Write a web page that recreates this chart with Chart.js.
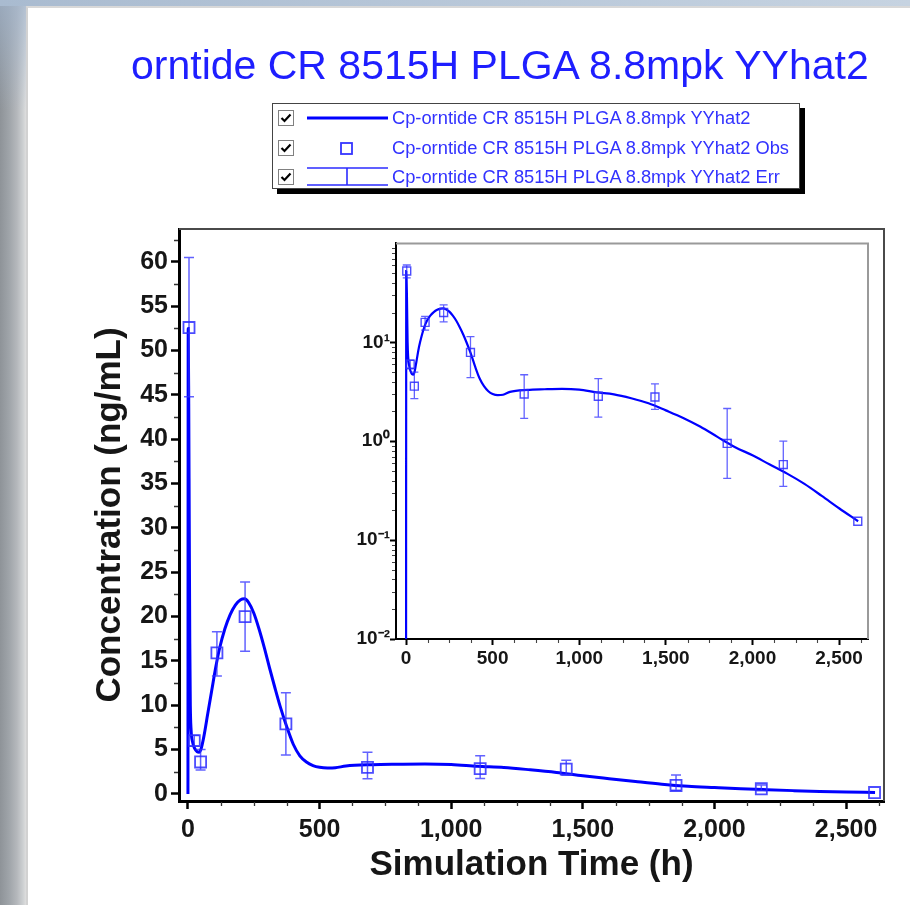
<!DOCTYPE html>
<html>
<head>
<meta charset="utf-8">
<script src="https://cdn.jsdelivr.net/npm/chart.js@4.4.1/dist/chart.umd.min.js"></script>
<style>
  html, body { margin: 0; padding: 0; }
  body { width: 910px; height: 905px; position: relative; overflow: hidden; background: #fff;
         font-family: "Liberation Sans", Arial, sans-serif; }
  #marcoIzq { position: absolute; left: 0; top: 0; width: 26px; height: 905px;
              background: linear-gradient(to right, #8e9398 0px, #9fa4a9 9px, #b5b8bc 17px, #cdd0d2 23px, #dedede 26px); }
  #marcoIzqAzul { position: absolute; left: 0; top: 0; width: 26px; height: 110px;
                  background: linear-gradient(to bottom, rgba(160,180,205,0.7), rgba(160,180,205,0)); }
  #marcoSup { position: absolute; left: 0; top: 0; width: 910px; height: 6px;
              background: linear-gradient(to right, #a9bbd0, #c6d3e1); }
  #panel { position: absolute; left: 26px; top: 6px; width: 884px; height: 899px; background: #fff;
           border-left: 2px solid #d2d2d2; border-top: 2px solid #d8d8d8; box-sizing: border-box; }
  canvas { position: absolute; }
  #mainChart { left: 0; top: 0; }
  #insetChart { left: 340px; top: 232px; }
  #titulo { position: absolute; left: 131px; top: 45px; font-size: 41px; line-height: 41px;
            color: #1e1eff; white-space: nowrap; }
  #leyenda { position: absolute; left: 272px; top: 103px; width: 528px; height: 86px; background: #fff;
             border: 1px solid #444; box-sizing: border-box; box-shadow: 5px 5px 0 #000; }
  .fila { position: absolute; left: 0; width: 100%; height: 18px; }
  .fila svg { position: absolute; }
  .txt { position: absolute; left: 119px; top: 0; font-size: 18.3px; line-height: 18px; color: #3232ff; white-space: nowrap; }
</style>
</head>
<body>
<div id="marcoIzq"></div>
<div id="marcoIzqAzul"></div>
<div id="marcoSup"></div>
<div id="panel"></div>

<canvas id="mainChart" width="910" height="905"></canvas>
<canvas id="insetChart" width="540" height="440"></canvas>

<div id="titulo">orntide CR 8515H PLGA 8.8mpk YYhat2</div>

<div id="leyenda">
  <div class="fila" style="top:5px">
    <svg style="left:5px;top:1px" width="16" height="16"><rect x="0.5" y="0.5" width="15" height="15" fill="#fff" stroke="#808080"/><path d="M3.5 8 L6.5 11 L12.5 4.5" fill="none" stroke="#000" stroke-width="2.2"/></svg>
    <svg style="left:34px;top:7px" width="81" height="4"><line x1="0" y1="2" x2="81" y2="2" stroke="#0000ff" stroke-width="3"/></svg>
    <span class="txt">Cp-orntide CR 8515H PLGA 8.8mpk YYhat2</span>
  </div>
  <div class="fila" style="top:35px">
    <svg style="left:5px;top:1px" width="16" height="16"><rect x="0.5" y="0.5" width="15" height="15" fill="#fff" stroke="#808080"/><path d="M3.5 8 L6.5 11 L12.5 4.5" fill="none" stroke="#000" stroke-width="2.2"/></svg>
    <svg style="left:67px;top:3px" width="13" height="13"><rect x="1" y="1" width="11" height="11" fill="none" stroke="#3535ff" stroke-width="1.8"/></svg>
    <span class="txt">Cp-orntide CR 8515H PLGA 8.8mpk YYhat2 Obs</span>
  </div>
  <div class="fila" style="top:64px">
    <svg style="left:5px;top:1px" width="16" height="16"><rect x="0.5" y="0.5" width="15" height="15" fill="#fff" stroke="#808080"/><path d="M3.5 8 L6.5 11 L12.5 4.5" fill="none" stroke="#000" stroke-width="2.2"/></svg>
    <svg style="left:34px;top:-1px" width="81" height="20"><g stroke="#2b2bff" stroke-width="1.6"><line x1="0" y1="1" x2="81" y2="1"/><line x1="0" y1="18" x2="81" y2="18"/><line x1="40" y1="1" x2="40" y2="18"/></g></svg>
    <span class="txt">Cp-orntide CR 8515H PLGA 8.8mpk YYhat2 Err</span>
  </div>
</div>

<script>
// Observaciones (tiempo en h, concentración en ng/mL, límites de la barra de error)
const obsTime = [4, 24, 48, 110, 217, 372, 682, 1110, 1437, 1854, 2178, 2608];
const obsConc = [52.6, 6.0, 3.6, 15.9, 20.0, 7.9, 3.0, 2.85, 2.8, 0.95, 0.58, 0.155];
const obsLow  = [44.8, 5.4, 2.7, 13.3, 16.1, 4.4, 1.7, 1.75, 2.1, 0.42, 0.35, 0.155];
const obsHigh = [60.5, 6.6, 5.0, 18.3, 23.9, 11.4, 4.7, 4.3, 3.8, 2.14, 1.0, 0.155];

// Curva predicha
const predTime = [0, 1, 3, 5, 7, 9, 12, 18, 26, 35, 42, 50, 60, 75, 90, 105, 120, 140, 160, 180,
                  200, 215, 230, 250, 270, 290, 310, 330, 350, 375, 400, 425, 450, 475, 500, 530, 560, 600, 700, 800,
                  900, 1000, 1100, 1200, 1300, 1400, 1500, 1600, 1700, 1800, 1900, 2000, 2100, 2200, 2300, 2400, 2500, 2610];
const predConc = [0, 52.5, 44, 30, 17, 10, 7.2, 5.8, 5.1, 4.75, 4.7, 5.1, 6.4, 9.0, 11.6, 14.2, 16.4, 18.6, 20.2, 21.3,
                  21.9, 22.0, 21.6, 20.4, 18.6, 16.5, 14.2, 12.0, 9.9, 7.6, 5.6, 4.3, 3.6, 3.2, 3.0, 2.92, 2.95, 3.15, 3.3, 3.35,
                  3.38, 3.32, 3.12, 2.98, 2.72, 2.42, 2.05, 1.72, 1.4, 1.1, 0.87, 0.72, 0.58, 0.47, 0.37, 0.28, 0.21, 0.155];

// Marcas de los ejes
const xTicks = [0, 500, 1000, 1500, 2000, 2500];
const yTicksLin = [0, 5, 10, 15, 20, 25, 30, 35, 40, 45, 50, 55, 60];
const yTicksLog = [0.01, 0.1, 1, 10];

const FONT = '"Liberation Sans", Arial, sans-serif';
const TXT = '#161616';

// Marco superior y derecho del área del gráfico
const framePlugin = {
    id: 'frame',
    beforeDatasetsDraw(chart, args, opts) {
        const a = chart.chartArea, ctx = chart.ctx;
        ctx.save();
        ctx.strokeStyle = opts.color;
        ctx.lineWidth = opts.width;
        ctx.beginPath();
        ctx.moveTo(a.left, a.top);
        ctx.lineTo(a.right, a.top);
        ctx.lineTo(a.right, a.bottom);
        ctx.stroke();
        ctx.restore();
    }
};

// Marcas menores
const minorPlugin = {
    id: 'minor',
    afterDraw(chart, args, opts) {
        const a = chart.chartArea, ctx = chart.ctx;
        const xs = chart.scales.x, ys = chart.scales.y;
        ctx.save();
        ctx.strokeStyle = opts.color;
        ctx.lineWidth = opts.width;
        ctx.beginPath();
        opts.x.forEach(function (v) {
            const px = Math.round(xs.getPixelForValue(v)) + 0.5;
            ctx.moveTo(px, a.bottom + 1);
            ctx.lineTo(px, a.bottom + opts.len);
        });
        opts.y.forEach(function (v) {
            const py = Math.round(ys.getPixelForValue(v)) + 0.5;
            ctx.moveTo(a.left - 1, py);
            ctx.lineTo(a.left - opts.len, py);
        });
        ctx.stroke();
        ctx.restore();
    }
};

// Barras de error de las observaciones
const errPlugin = {
    id: 'errbars',
    afterDatasetsDraw(chart, args, opts) {
        const a = chart.chartArea, ctx = chart.ctx;
        const xs = chart.scales.x, ys = chart.scales.y;
        ctx.save();
        ctx.beginPath();
        ctx.rect(a.left, a.top, a.right - a.left, a.bottom - a.top);
        ctx.clip();
        ctx.strokeStyle = opts.color;
        ctx.lineWidth = opts.width;
        ctx.beginPath();
        obsTime.forEach(function (t, i) {
            if (obsHigh[i] === obsLow[i]) return;
            const px = xs.getPixelForValue(t);
            const y1 = ys.getPixelForValue(obsLow[i]);
            const y2 = ys.getPixelForValue(obsHigh[i]);
            ctx.moveTo(px, y1); ctx.lineTo(px, y2);
            ctx.moveTo(px - opts.cap, y1); ctx.lineTo(px + opts.cap, y1);
            ctx.moveTo(px - opts.cap, y2); ctx.lineTo(px + opts.cap, y2);
        });
        ctx.stroke();
        ctx.restore();
    }
};

function minorList(step, from, to, skip) {
    const out = [];
    for (let v = from; v <= to + 1e-9; v += step) {
        if (Math.abs(v / skip - Math.round(v / skip)) > 1e-6) out.push(v);
    }
    return out;
}

function fmt(v) {
    return Number(v).toLocaleString('en-US');
}

const supMap = { '-': '\u207B', '0': '\u2070', '1': '\u00B9', '2': '\u00B2', '3': '\u00B3' };
function sup(n) {
    return String(n).split('').map(function (c) { return supMap[c]; }).join('');
}

const predPoints = predTime.map(function (t, i) { return { x: t, y: predConc[i] }; });
const obsPoints = obsTime.map(function (t, i) { return { x: t, y: obsConc[i] }; });

// Gráfica principal (escala lineal)
const mainCtx = document.getElementById('mainChart').getContext('2d');
const mainChart = new Chart(mainCtx, {
    type: 'scatter',
    data: {
        datasets: [{
            label: 'Cp-orntide CR 8515H PLGA 8.8mpk YYhat2',
            data: predPoints,
            showLine: true,
            borderColor: '#0000ff',
            borderWidth: 3,
            pointRadius: 0,
            cubicInterpolationMode: 'monotone',
            order: 2
        }, {
            label: 'Cp-orntide CR 8515H PLGA 8.8mpk YYhat2 Obs',
            data: obsPoints,
            pointStyle: 'rect',
            pointRadius: 7.8,
            borderColor: 'rgba(45,45,255,0.85)',
            backgroundColor: 'rgba(0,0,0,0)',
            borderWidth: 1.8,
            order: 1
        }]
    },
    options: {
        responsive: false,
        animation: false,
        devicePixelRatio: 1,
        layout: { padding: { top: 229, right: 26, left: 0, bottom: 0 } },
        plugins: {
            legend: { display: false },
            tooltip: { enabled: false },
            frame: { color: '#4a4a4a', width: 2 },
            minor: { x: minorList(125, 0, 2625, 500), y: minorList(2.5, 0, 62.5, 5), len: 5, width: 1.3, color: '#333' },
            errbars: { color: 'rgba(45,45,255,0.75)', width: 1.5, cap: 5 }
        },
        scales: {
            x: {
                type: 'linear', min: -34, max: 2644,
                afterBuildTicks: function (s) { s.ticks = xTicks.map(function (v) { return { value: v }; }); },
                afterFit: function (s) { s.height = 104; },
                ticks: { font: { family: FONT, size: 25, weight: 'bold' }, color: TXT, padding: 6,
                         maxRotation: 0, autoSkip: false, callback: fmt },
                grid: { drawOnChartArea: false, drawTicks: true, tickLength: 8, tickWidth: 2.5, tickColor: '#000' },
                border: { display: true, width: 3, color: '#000' },
                title: { display: true, text: 'Simulation Time (h)', color: TXT,
                         font: { family: FONT, size: 35, weight: 'bold' }, padding: { top: 0, bottom: 19 } }
            },
            y: {
                type: 'linear', min: -0.8, max: 63.71,
                afterBuildTicks: function (s) { s.ticks = yTicksLin.map(function (v) { return { value: v }; }); },
                afterFit: function (s) { s.width = 179; },
                ticks: { font: { family: FONT, size: 25, weight: 'bold' }, color: TXT, padding: 3, autoSkip: false },
                grid: { drawOnChartArea: false, drawTicks: true, tickLength: 8, tickWidth: 2.5, tickColor: '#000' },
                border: { display: true, width: 3, color: '#000' },
                title: { display: true, text: 'Concentration (ng/mL)', color: TXT,
                         font: { family: FONT, size: 35, weight: 'bold' }, padding: { top: 89, bottom: 0 } }
            }
        }
    },
    plugins: [framePlugin, errPlugin, minorPlugin]
});

// Gráfica interior (escala logarítmica); el 0 inicial se lleva por debajo del eje
const predLog = predTime.map(function (t, i) { return { x: t, y: predConc[i] > 0 ? predConc[i] : 0.001 }; });

const insetCtx = document.getElementById('insetChart').getContext('2d');
const insetChart = new Chart(insetCtx, {
    type: 'scatter',
    data: {
        datasets: [{
            label: 'Cp-orntide CR 8515H PLGA 8.8mpk YYhat2',
            data: predLog,
            showLine: true,
            borderColor: '#0000ff',
            borderWidth: 2.2,
            pointRadius: 0,
            cubicInterpolationMode: 'monotone',
            order: 2
        }, {
            label: 'Cp-orntide CR 8515H PLGA 8.8mpk YYhat2 Obs',
            data: obsPoints,
            pointStyle: 'rect',
            pointRadius: 5.6,
            borderColor: 'rgba(45,45,255,0.85)',
            backgroundColor: 'rgba(0,0,0,0)',
            borderWidth: 1.4,
            order: 1
        }]
    },
    options: {
        responsive: false,
        animation: false,
        devicePixelRatio: 1,
        layout: { padding: { top: 7, right: 12, left: 0, bottom: 0 } },
        plugins: {
            legend: { display: false },
            tooltip: { enabled: false },
            frame: { color: '#9a9a9a', width: 2 },
            minor: { x: minorList(125, 0, 2625, 500),
                     y: [0.02, 0.03, 0.04, 0.05, 0.06, 0.07, 0.08, 0.09, 0.2, 0.3, 0.4, 0.5, 0.6, 0.7, 0.8, 0.9,
                         2, 3, 4, 5, 6, 7, 8, 9, 20, 30, 40, 50, 60, 70, 80, 90],
                     len: 4, width: 1.1, color: '#444' },
            errbars: { color: 'rgba(45,45,255,0.75)', width: 1.3, cap: 4 }
        },
        scales: {
            x: {
                type: 'linear', min: -58, max: 2667,
                afterBuildTicks: function (s) { s.ticks = xTicks.map(function (v) { return { value: v }; }); },
                afterFit: function (s) { s.height = 33; },
                ticks: { font: { family: FONT, size: 19, weight: 'bold' }, color: TXT, padding: 2,
                         maxRotation: 0, autoSkip: false, callback: fmt },
                grid: { drawOnChartArea: false, drawTicks: true, tickLength: 6, tickWidth: 2, tickColor: '#000' },
                border: { display: true, width: 2, color: '#000' }
            },
            y: {
                type: 'logarithmic', min: 0.01, max: 100,
                afterBuildTicks: function (s) { s.ticks = yTicksLog.map(function (v) { return { value: v }; }); },
                afterFit: function (s) { s.width = 56; },
                ticks: { font: { family: FONT, size: 19, weight: 'bold' }, color: TXT, padding: 0, autoSkip: false,
                         callback: function (v) { return '10' + sup(Math.round(Math.log10(v))); } },
                grid: { drawOnChartArea: false, drawTicks: true, tickLength: 6, tickWidth: 2, tickColor: '#000' },
                border: { display: true, width: 2, color: '#000' }
            }
        }
    },
    plugins: [framePlugin, errPlugin, minorPlugin]
});
</script>
</body>
</html>
